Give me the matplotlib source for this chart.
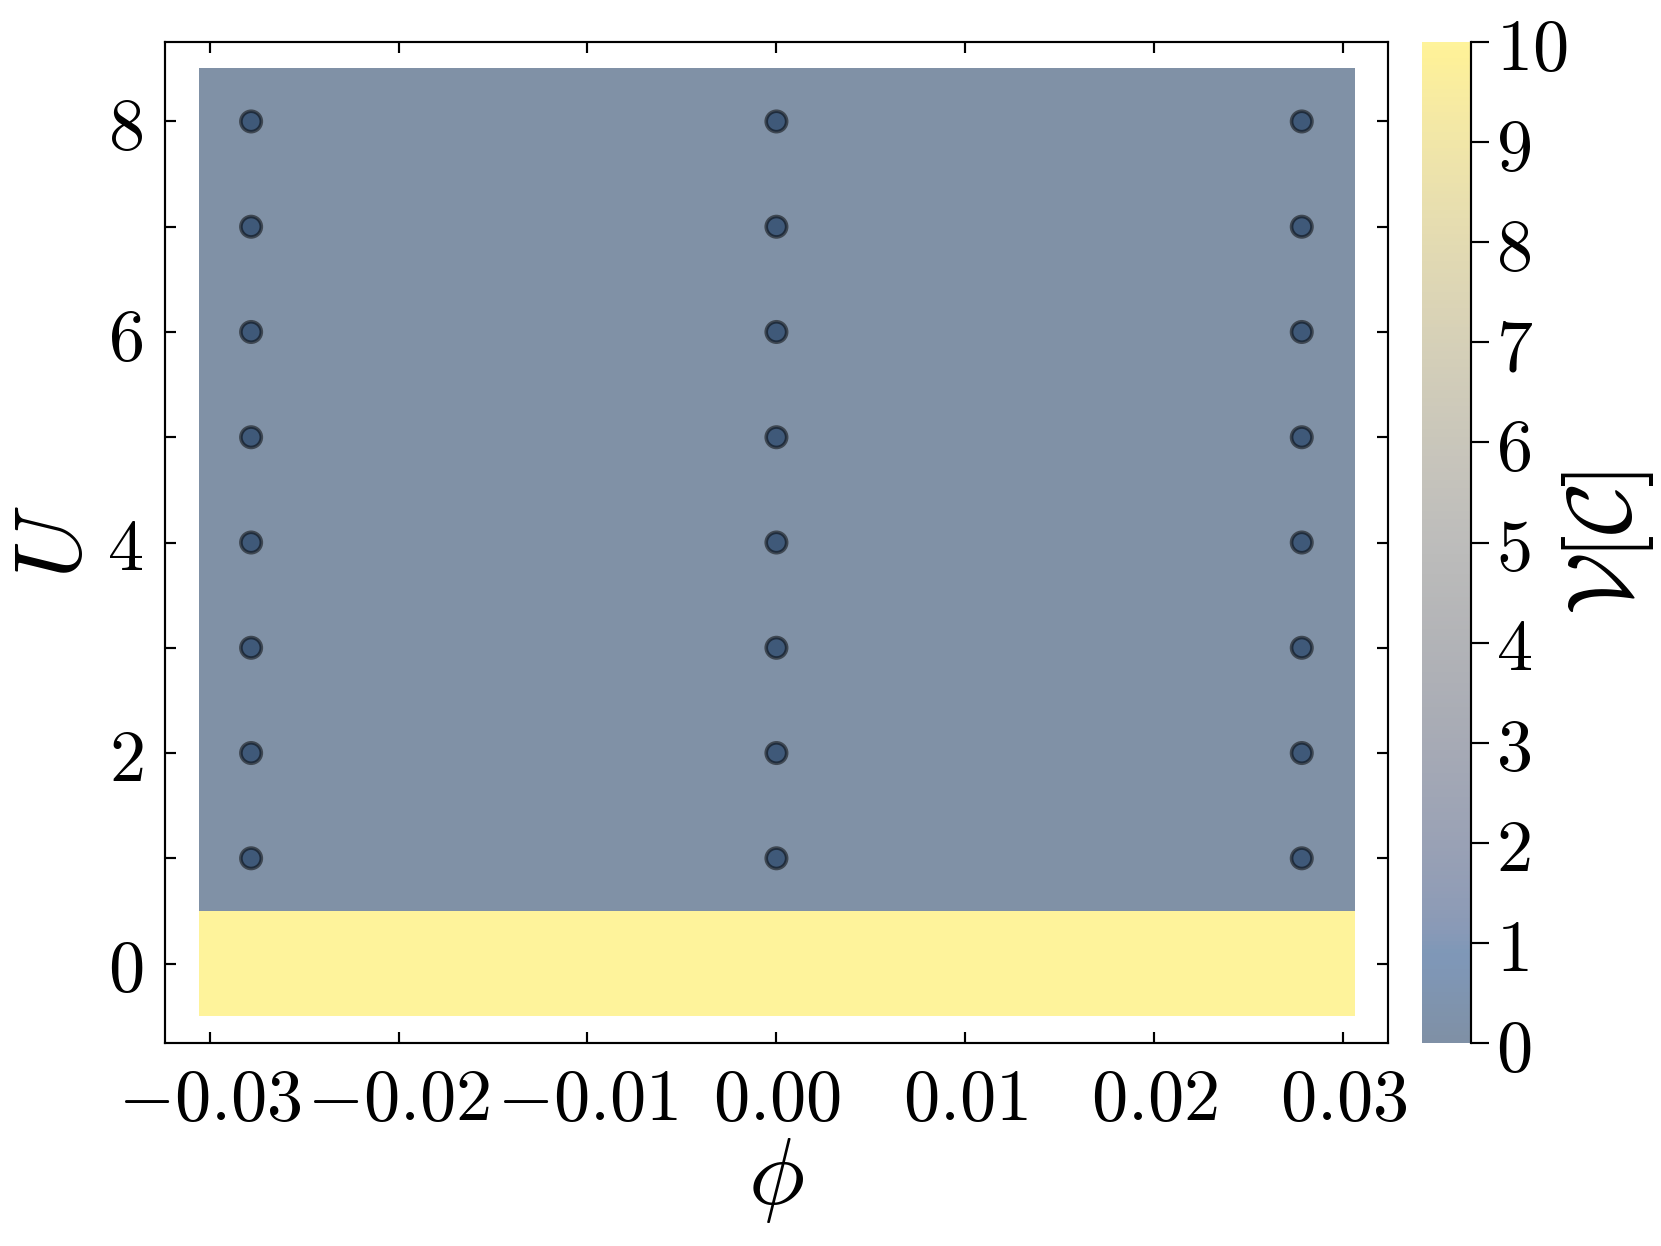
import matplotlib
matplotlib.use("Agg")
import matplotlib.pyplot as plt
import matplotlib.ticker as ticker
import numpy as np

plt.rcParams['mathtext.fontset'] = 'cm'
plt.rcParams['font.family'] = 'serif'

# grid of computed points
phi = [-0.0278, 0.0, 0.0278]
U = [0, 1, 2, 3, 4, 5, 6, 7, 8]
# V[C] per U row (same for every phi)
V_row = [10, 0, 0, 0, 0, 0, 0, 0, 0]
# scatter markers (U >= 1 only)
pts_U = [1, 2, 3, 4, 5, 6, 7, 8]
pts_V = [0, 0, 0, 0, 0, 0, 0, 0]

vals = np.array([[v] * len(phi) for v in V_row])

fig = plt.figure(figsize=(1661 / 260, 1246 / 260), dpi=260)
ax = fig.add_axes([0.0993, 0.1629, 0.7363, 0.8034])
cax = fig.add_axes([0.856, 0.1629, 0.0295, 0.8034])

ext = [phi[0] * 1.1, phi[-1] * 1.1, U[0] - 0.5, U[-1] + 0.5]
im = ax.imshow(vals, origin='lower', extent=ext, aspect='auto',
               cmap='cividis', vmin=0, vmax=10, alpha=0.5,
               interpolation='nearest')

px = np.repeat(phi, len(pts_U))
py = np.tile(pts_U, len(phi))
pc = np.tile(pts_V, len(phi))
ax.scatter(px, py, c=pc, cmap='cividis', vmin=0, vmax=10, s=32,
           alpha=0.5, edgecolors='black', linewidths=1.0, zorder=3)

ax.set_xlim(-0.03236, 0.03236)
ax.set_ylim(-0.755, 8.755)

ax.xaxis.set_major_locator(ticker.MultipleLocator(0.01))
ax.xaxis.set_major_formatter(ticker.FuncFormatter(
    lambda v, p: f'${round(v, 4) + 0.0:.2f}$'))
ax.yaxis.set_major_locator(ticker.MultipleLocator(2))
ax.yaxis.set_minor_locator(ticker.MultipleLocator(1))
ax.yaxis.set_major_formatter(ticker.FuncFormatter(lambda v, p: f'${int(round(v))}$'))

ax.tick_params(which='both', direction='in', top=True, right=True,
               length=3, width=0.6, labelsize=20, pad=6)
for s in ax.spines.values():
    s.set_linewidth(0.6)

ax.set_xlabel(r'$\phi$', fontsize=26, labelpad=0)
ax.set_ylabel(r'$U$', fontsize=26, labelpad=2)

cbar = fig.colorbar(im, cax=cax)
cbar.outline.set_visible(False)
cax.spines['right'].set_visible(True)
cax.spines['right'].set_linewidth(0.6)
cbar.set_ticks(np.arange(0, 11, 1))
cax.yaxis.set_major_formatter(ticker.FuncFormatter(lambda v, p: f'${int(round(v))}$'))
cax.tick_params(direction='out', length=5, width=0.6, labelsize=20, pad=2)
cbar.set_label(r'$\mathcal{V}[\mathcal{C}]$', fontsize=25, labelpad=-2)

fig.savefig('out.png', dpi=260)
